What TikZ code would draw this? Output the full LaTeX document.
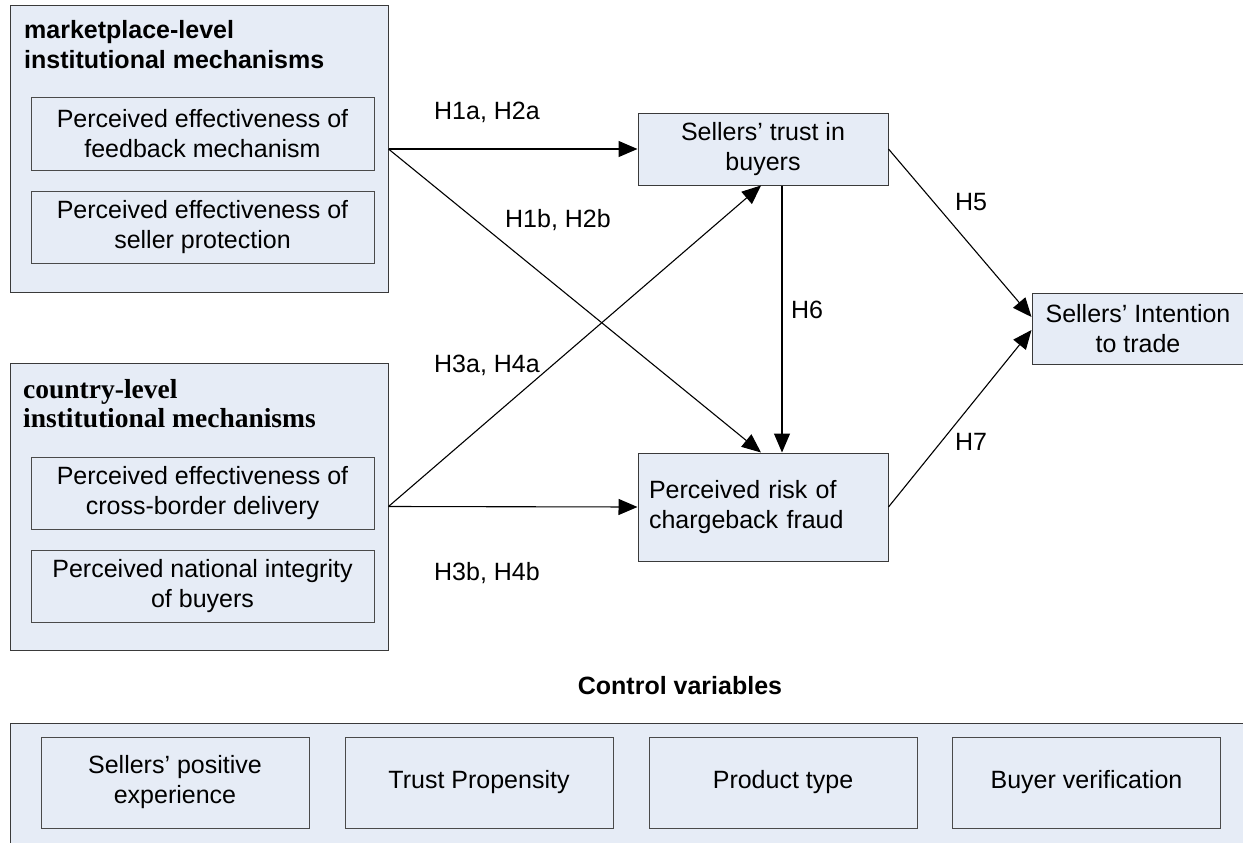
\documentclass[tikz,border=0pt]{standalone}
\usepackage{fontspec}
\setmainfont{Liberation Sans}
\newfontfamily\serifbold{Liberation Serif}
\usetikzlibrary{arrows.meta,calc}
\definecolor{boxfill}{HTML}{E6ECF6}
\definecolor{outerline}{HTML}{3A3A3A}
\definecolor{innerline}{HTML}{4A4A4A}
\tikzset{
  txt/.style={font=\fontsize{25}{30}\selectfont, inner sep=0pt, align=center},
  grp/.style={draw=outerline, fill=boxfill, line width=1pt, inner sep=0pt},
  inbox/.style={txt, draw=innerline, fill=boxfill, line width=1pt, minimum width=343pt, minimum height=72pt},
  var/.style={txt, draw=outerline, fill=boxfill, line width=1pt},
  ctl/.style={txt, draw=innerline, fill=boxfill, line width=1pt, minimum width=268pt, minimum height=91pt},
  lab/.style={font=\fontsize{25}{30}\selectfont, inner sep=0pt},
  ttl/.style={font=\fontsize{25}{30}\selectfont\bfseries, inner sep=0pt, anchor=base west},
  sttl/.style={font=\fontsize{27.5}{30}\selectfont\serifbold\bfseries, inner sep=0pt, anchor=base west},
  arr/.style={-{Triangle[length=19pt,width=16pt]}, line width=1.1pt, black},
  conn/.style={line width=1.1pt, black},
}
\begin{document}
\begin{tikzpicture}[x=1pt,y=-1pt]
\path[use as bounding box, clip] (0,0) rectangle (1243,843);
\fill[white] (0,0) rectangle (1243,843);

% group boxes
\node[grp, minimum width=378pt, minimum height=286pt] (mkt) at (199,149) {};
\node[ttl] (mktt1) at (24,39) {marketplace-level};
\node[ttl] (mktt2) at (24,69) {institutional mechanisms};
\node[inbox] (fb) at (202.5,134) {Perceived effectiveness of\\feedback mechanism};
\node[inbox] (sp) at (202.5,227.5) {Perceived effectiveness of\\seller protection};

\node[grp, minimum width=378pt, minimum height=287pt] (cty) at (199,506.5) {};
\node[sttl] (ctyt1) at (23,398) {country-level};
\node[sttl] (ctyt2) at (23,427) {institutional mechanisms};
\node[inbox] (cbd) at (202.5,493) {Perceived effectiveness of\\cross-border delivery};
\node[inbox] (nib) at (202.5,586) {Perceived national integrity\\of buyers};

% constructs
\node[var, minimum width=250pt, minimum height=72pt] (trust) at (763,149) {Sellers' trust in\\buyers};
\node[var, minimum width=250pt, minimum height=108pt, text width=228pt, inner xsep=11pt, align=left] (risk) at (763,507) {Perceived risk of\\chargeback fraud};
\node[var, minimum width=212pt, minimum height=71pt] (intent) at (1138,328.5) {Sellers' Intention\\to trade};

% connectors
\draw[arr] (mkt.east) -- (trust.west);
\draw[arr] (mkt.east) -- ($(risk.north)+(-2,0)$);
\draw[arr] (cty.east) -- ($(trust.south)+(-2,0)$);
\draw[arr] (cty.east) -- (risk.west);
\draw[arr] ($(trust.south)+(19,0)$) -- ($(risk.north)+(19,0)$);
\draw[arr] (trust.east) -- ($(intent.west)+(0,-11.5)$);
\draw[arr] (risk.east) -- ($(intent.west)+(0,1.5)$);

% labels
\node[lab] (l1) at (487,112) {H1a, H2a};
\node[lab] (l2) at (558,220) {H1b, H2b};
\node[lab] (l3) at (487,365) {H3a, H4a};
\node[lab] (l4) at (487,573) {H3b, H4b};
\node[lab] (l5) at (971,202) {H5};
\node[lab] (l6) at (807,310) {H6};
\node[lab] (l7) at (971,442) {H7};

% control variables
\node[font=\fontsize{25}{30}\selectfont\bfseries, inner sep=0pt, anchor=base] (ctitle) at (680,694) {Control variables};
\node[grp, minimum width=1250pt, minimum height=140pt, anchor=north west] (ctrl) at (10,723) {};
\node[ctl] (c1) at (175,782.5) {Sellers' positive\\experience};
\node[ctl] (c2) at (479,782.5) {Trust Propensity};
\node[ctl] (c3) at (783,782.5) {Product type};
\node[ctl] (c4) at (1086.5,782.5) {Buyer verification};
\end{tikzpicture}
\end{document}
